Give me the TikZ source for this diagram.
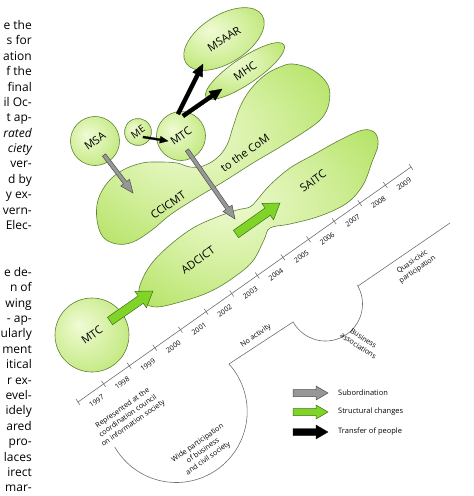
\documentclass[tikz,border=0pt]{standalone}
\usepackage{fontspec}
\setmainfont{Open Sans}
\usetikzlibrary{shapes.geometric,calc}
\definecolor{gin}{RGB}{240,251,212}
\definecolor{gout}{RGB}{168,222,78}
\definecolor{gline}{RGB}{96,128,52}
\definecolor{agreen}{RGB}{128,212,40}
\definecolor{agreenl}{RGB}{62,112,22}
\definecolor{agray}{RGB}{150,152,150}
\definecolor{agrayl}{RGB}{78,78,78}
\definecolor{tline}{RGB}{110,110,110}
\pgfdeclareradialshading{blobshade}{\pgfpoint{-8bp}{6bp}}{color(0bp)=(gin); color(20bp)=(gin!55!gout); color(42bp)=(gout); color(50bp)=(gout!92!black)}
\newcommand\blockarr[6]{%
  \path let \p1=(#2), \p2=(#3) in \pgfextra{%
    \pgfmathsetmacro\bkang{atan2(\y2-\y1,\x2-\x1)}%
    \pgfmathsetmacro\bklen{veclen(\x2-\x1,\y2-\y1)}%
    \xdef\bkang{\bkang}\xdef\bklen{\bklen}\xdef\bkx{\x1}\xdef\bky{\y1}};
  \begin{scope}[shift={(\bkx,\bky)}, rotate=\bkang]
    \path[#1] (0pt,-#4pt) -- ({\bklen pt-#6pt},-#4pt) -- ({\bklen pt-#6pt},-#5pt) -- (\bklen pt,0pt) -- ({\bklen pt-#6pt},#5pt) -- ({\bklen pt-#6pt},#4pt) -- (0pt,#4pt) -- cycle;
  \end{scope}}
\tikzset{
  blob/.style={draw=gline, line width=0.6pt, shading=blobshade},
  circ/.style={circle, blob, inner sep=0pt, rotate=35, font=\fontsize{11}{12}\selectfont},
  ell/.style={ellipse, blob, inner sep=0pt, font=\fontsize{11}{12}\selectfont},
  lbl/.style={rotate=35, font=\fontsize{11}{12}\selectfont, inner sep=0pt},
  yearlbl/.style={rotate=35, font=\fontsize{7}{8}\selectfont, inner sep=0pt},
  small/.style={font=\fontsize{7.2}{9.2}\selectfont, align=center, inner sep=0pt},
  legtxt/.style={font=\fontsize{7.5}{9}\selectfont, anchor=west, inner sep=0pt},
  axisln/.style={draw=tline, line width=0.6pt},
  garr/.style={fill=agreen, draw=agreenl, line width=0.5pt},
  gyarr/.style={fill=agray, draw=agrayl, line width=0.5pt},
  bkarr/.style={fill=black, draw=black, line width=0.3pt},
  body/.style={font=\fontsize{12}{14}\selectfont, anchor=base east, inner sep=0pt}
}
\begin{document}
\begin{tikzpicture}[x=1pt,y=-1pt]
\useasboundingbox (0,0) rectangle (474,496);
% body text column
\foreach \t/\yy in {e the/29, s for/44, ation/60, f the/75, final/91, il Oc-/106, t ap-/121, {\itshape rated}/137, {\itshape ciety}/152, ver-/167, d by/183, y ex-/198, vern-/214, Elec-/229, e de-/276, n of/291, wing/307, - ap-/322, ularly/337, ment/353, itical/368, r ex-/384, evel-/399, idely/414, ared/430, pro-/445, laces/461, irect/476, mar-/491}
  \node[body] at (32,\yy) {\t};
% big blobs
\path[blob] plot[smooth cycle, tension=0.6] coordinates {
 (293,64) (313,70) (328,85) (329,103) (322,118) (307,130) (280,147) (253,163) (223,182) (193,200) (170,215) (152,230) (133,242) (117,244) (103,237) (97,220) (98,200) (108,182) (123,170) (142,163) (160,162) (177,163) (190,167) (203,166) (217,158) (227,145) (233,127) (240,107) (250,90) (265,75) (280,67)};
\path[blob] plot[smooth cycle, tension=0.6] coordinates {
 (139,293) (142,280) (152,263) (170,245) (193,228) (217,217) (237,210) (250,207) (257,200) (270,185) (290,168) (313,155) (340,140) (363,130) (375,133) (378,145) (372,162) (363,185) (347,203) (320,216) (290,224) (270,228) (264,240) (252,262) (230,280) (207,293) (180,302) (157,307) (145,303)};
\node[lbl] (com) at (245,153) {to the CoM};
\node[lbl] (ccicmt) at (168,205) {CCICMT};
\node[lbl] (adcict) at (198,260) {ADCICT};
\node[lbl] (saitc) at (313,181) {SAITC};
% ellipses
\node[ell, minimum width=90pt, minimum height=48pt, rotate=32] (msaar) at (224,39) {MSAAR};
\node[ell, minimum width=94pt, minimum height=26pt, rotate=34] (mhc) at (245,71) {MHC};
% circles
\node[circ, minimum size=49pt] (msa) at (95,141) {MSA};
\node[circ, minimum size=27pt, font=\fontsize{10}{11}\selectfont] (me) at (138,132) {ME};
\node[circ, minimum size=49pt] (mtca) at (181,136) {MTC};
\node[circ, minimum size=74pt] (mtcb) at (92,335) {MTC};
% arrow end points
\coordinate (s1) at (104,155); \coordinate (e1) at (133,193);
\coordinate (s2) at (187,150); \coordinate (e2) at (235,219);
\coordinate (s3) at (143,137); \coordinate (e3) at (168,141);
\coordinate (s4) at (178,114); \coordinate (e4) at (203,64);
\coordinate (s5) at (183,116); \coordinate (e5) at (222,89);
\coordinate (s6) at (110,321); \coordinate (e6) at (153,291);
\coordinate (s7) at (236,234); \coordinate (e7) at (280,203);
\blockarr{gyarr}{s1}{e1}{2}{5.5}{13}
\blockarr{gyarr}{s2}{e2}{2}{5.5}{13}
\blockarr{bkarr}{s3}{e3}{1}{3.5}{8}
\blockarr{bkarr}{s4}{e4}{2}{5.5}{12}
\blockarr{bkarr}{s5}{e5}{2}{5.5}{12}
\blockarr{garr}{s6}{e6}{4.5}{10}{15}
\blockarr{garr}{s7}{e7}{4.5}{10}{15}
% timeline
\foreach \i in {0,...,13} \coordinate (t\i) at ($(78,402)!\i/13!(411,167)$);
\draw[axisln] (t0) -- (t13);
\foreach \i in {0,...,13} \draw[axisln] ($(t\i)+(-2,-2.9)$) -- ($(t\i)+(2,2.9)$);
\foreach \i [evaluate=\i as \j using int(\i+1), evaluate=\i as \yr using int(1997+\i)] in {0,...,12}
  \node[yearlbl] (y\i) at ($(t\i)!0.5!(t\j) + (5.8,8.2)$) {\yr};
% participation line
\draw[axisln] (450,223) -- (357.9,286.1) -- plot[domain=-29:151, samples=40] ({325.5+37*cos(\x)},{304+37*sin(\x)}) -- plot[domain=-42:150, samples=60] ({176.2+71*cos(\x)},{411.5+71*sin(\x)});
\node[small, rotate=35] (noact) at (256,336) {No activity};
\node[small, rotate=-33] (busi) at (361,342) {Business\\associations};
\node[small, rotate=35] (quasi) at (415,266) {Quasi-civic\\participation};
\node[small, rotate=35] (repr) at (128,416) {Represented at the\\coordination council\\on information society};
\node[small, rotate=35] (wide) at (203,451) {Wide participation\\of business\\and civil society};
% legend
\coordinate (l1s) at (293,393); \coordinate (l1e) at (328,393);
\coordinate (l2s) at (293,412); \coordinate (l2e) at (328,412);
\coordinate (l3s) at (293,432); \coordinate (l3e) at (328,432);
\blockarr{gyarr}{l1s}{l1e}{3.5}{7}{12}
\blockarr{garr}{l2s}{l2e}{3.5}{7}{12}
\blockarr{bkarr}{l3s}{l3e}{3.5}{7}{12}
\node[legtxt] (leg1) at (338,393) {Subordination};
\node[legtxt] (leg2) at (338,412) {Structural changes};
\node[legtxt] (leg3) at (338,432) {Transfer of people};
\end{tikzpicture}
\end{document}
